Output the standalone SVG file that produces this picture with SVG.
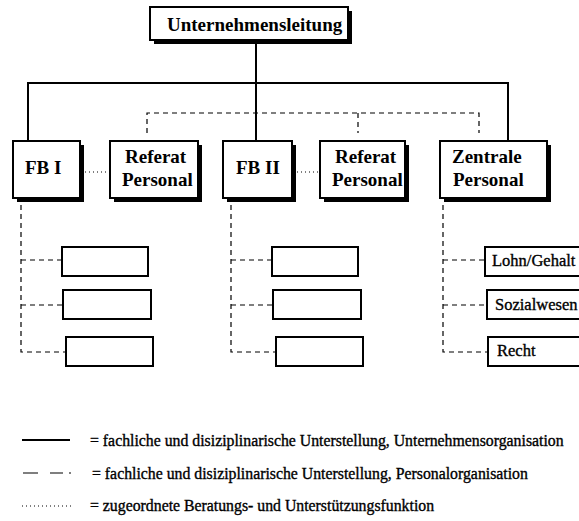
<svg xmlns="http://www.w3.org/2000/svg" width="579" height="521" viewBox="0 0 579 521">
<style>
.box{fill:#fff;stroke:#000;stroke-width:2}
.shadow{fill:#000}
.sub{fill:#fff;stroke:#000;stroke-width:2}
.solid{fill:none;stroke:#000;stroke-width:2}
.dash{fill:none;stroke:#000;stroke-width:1.2;stroke-dasharray:5,4}
.dot{fill:none;stroke:#000;stroke-width:1.2;stroke-dasharray:1,3}
.t{font-family:"Liberation Serif","Times New Roman",serif;font-weight:bold;font-size:19px;fill:#000}
.s{font-family:"Liberation Serif","Times New Roman",serif;font-size:16.5px;fill:#000;stroke:#000;stroke-width:0.35}
.l{font-family:"Liberation Serif","Times New Roman",serif;font-size:15.8px;fill:#000;stroke:#000;stroke-width:0.35}
</style>
<rect width="579" height="521" fill="#fff"/>
<g id="connectors">
<path class="solid" d="M256,39 V141 M28,141 V83 H508 V141"/>
<path class="dash" d="M147,133 V113 H479 V133 M358,113 V133"/>
<path class="dot" d="M85,172 H108 M297,172 H318"/>
<path class="dash" d="M21,205 V352 H66 M21,260 H62 M21,305 H63"/>
<path class="dash" d="M231,205 V352 H276 M231,260 H272 M231,305 H273"/>
<path class="dash" d="M443,205 V352 H488 M443,260 H485 M443,305 H487"/>
</g>
<g id="unternehmensleitung">
<rect class="shadow" x="154" y="11" width="198" height="33"/>
<rect class="box" x="150" y="7" width="198" height="33"/>
<text class="t" x="167" y="31">Unternehmensleitung</text>
</g>
<g id="fb1">
<rect class="shadow" x="17" y="145" width="67" height="57"/>
<rect class="box" x="13" y="141" width="67" height="57"/>
<text class="t" x="25" y="174">FB I</text>
</g>
<g id="referat1">
<rect class="shadow" x="114" y="145" width="88" height="57"/>
<rect class="box" x="110" y="141" width="88" height="57"/>
<text class="t" x="125" y="163">Referat</text>
<text class="t" x="122" y="186">Personal</text>
</g>
<g id="fb2">
<rect class="shadow" x="227" y="145" width="69" height="57"/>
<rect class="box" x="223" y="141" width="69" height="57"/>
<text class="t" x="236" y="174">FB II</text>
</g>
<g id="referat2">
<rect class="shadow" x="324" y="145" width="85" height="57"/>
<rect class="box" x="320" y="141" width="85" height="57"/>
<text class="t" x="335" y="163">Referat</text>
<text class="t" x="332" y="186">Personal</text>
</g>
<g id="zentrale">
<rect class="shadow" x="444" y="145" width="107" height="57"/>
<rect class="box" x="440" y="141" width="107" height="57"/>
<text class="t" x="452" y="163">Zentrale</text>
<text class="t" x="453" y="186">Personal</text>
</g>
<g id="fb1-sub1"><rect class="sub" x="62" y="247" width="86" height="29"/></g>
<g id="fb1-sub2"><rect class="sub" x="63" y="290" width="88" height="29"/></g>
<g id="fb1-sub3"><rect class="sub" x="66" y="337" width="87" height="29"/></g>
<g id="fb2-sub1"><rect class="sub" x="272" y="247" width="86" height="29"/></g>
<g id="fb2-sub2"><rect class="sub" x="273" y="290" width="88" height="29"/></g>
<g id="fb2-sub3"><rect class="sub" x="276" y="337" width="87" height="29"/></g>
<g id="lohn">
<rect class="sub" x="485" y="247" width="110" height="29"/>
<text class="s" x="492" y="266">Lohn/Gehalt</text>
</g>
<g id="sozialwesen">
<rect class="sub" x="487" y="290" width="110" height="29"/>
<text class="s" x="495" y="310">Sozialwesen</text>
</g>
<g id="recht">
<rect class="sub" x="488" y="337" width="110" height="29"/>
<text class="s" x="497" y="356">Recht</text>
</g>
<g id="legend">
<path class="solid" d="M22,440 H70"/>
<path fill="none" stroke="#000" stroke-width="1.2" d="M23,473 H38 M50,473 H63 M69,473 H71"/>
<path class="dot" d="M22,506 H72"/>
<text class="l" x="90" y="446">= fachliche und disiziplinarische Unterstellung, Unternehmensorganisation</text>
<text class="l" x="92" y="479">= fachliche und disiziplinarische Unterstellung, Personalorganisation</text>
<text class="l" x="90" y="511">= zugeordnete Beratungs- und Unterstützungsfunktion</text>
</g>
</svg>
